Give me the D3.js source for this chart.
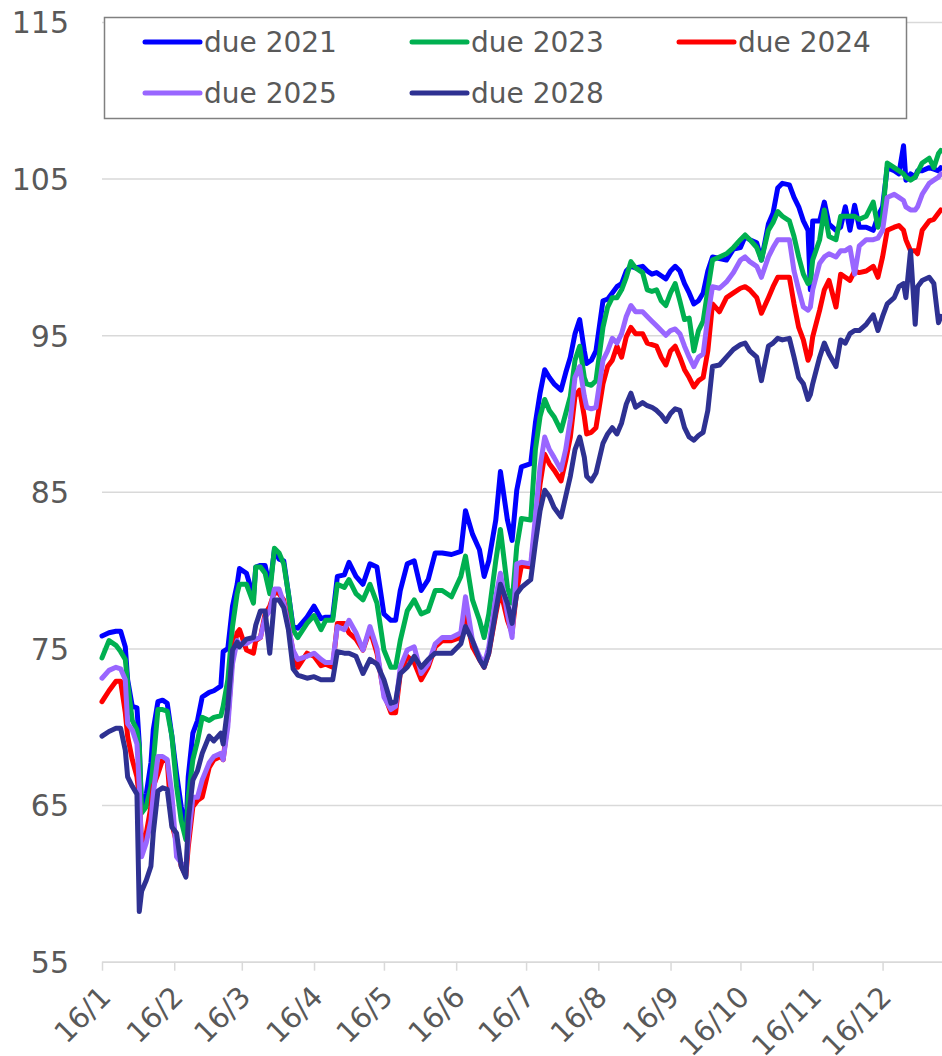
<!DOCTYPE html>
<html>
<head>
<meta charset="utf-8">
<script src="https://cdn.jsdelivr.net/npm/d3@7"></script>
<style>
  body { margin: 0; background: #fff; }
  text { font-family: Verdana, "DejaVu Sans", sans-serif; fill: #595959; }
</style>
</head>
<body>
<script>
// sample dates (2016), one shared list for every series
var dates = [
  "2016-01-01","2016-01-04","2016-01-07","2016-01-09","2016-01-11","2016-01-12","2016-01-14","2016-01-16","2016-01-17","2016-01-18","2016-01-20","2016-01-22","2016-01-23","2016-01-25","2016-01-27","2016-01-29","2016-01-31",
  "2016-02-02","2016-02-04","2016-02-06","2016-02-07","2016-02-09","2016-02-11","2016-02-13","2016-02-16","2016-02-18","2016-02-21","2016-02-22","2016-02-24","2016-02-26","2016-02-28","2016-02-29",
  "2016-03-03","2016-03-06","2016-03-07","2016-03-09","2016-03-11","2016-03-13","2016-03-15","2016-03-17","2016-03-19","2016-03-21","2016-03-23","2016-03-25","2016-03-29",
  "2016-04-01","2016-04-04","2016-04-06","2016-04-09","2016-04-11","2016-04-14","2016-04-16","2016-04-19","2016-04-22","2016-04-25","2016-04-28",
  "2016-05-01","2016-05-04","2016-05-06","2016-05-08","2016-05-11","2016-05-14","2016-05-17","2016-05-20","2016-05-23","2016-05-26","2016-05-30",
  "2016-06-03","2016-06-05","2016-06-08","2016-06-11","2016-06-13","2016-06-15","2016-06-18","2016-06-20","2016-06-23","2016-06-25","2016-06-27","2016-06-29",
  "2016-07-03","2016-07-05","2016-07-07","2016-07-09","2016-07-11","2016-07-13","2016-07-16","2016-07-18","2016-07-20","2016-07-22","2016-07-24","2016-07-26","2016-07-27","2016-07-29","2016-07-31",
  "2016-08-03","2016-08-05","2016-08-07","2016-08-09","2016-08-11","2016-08-13","2016-08-15","2016-08-17","2016-08-20","2016-08-22","2016-08-24","2016-08-26","2016-08-28","2016-08-30",
  "2016-09-01","2016-09-03","2016-09-05","2016-09-07","2016-09-09","2016-09-11","2016-09-13","2016-09-15","2016-09-17","2016-09-19","2016-09-22","2016-09-25","2016-09-28",
  "2016-10-01","2016-10-03","2016-10-05","2016-10-08","2016-10-10","2016-10-13","2016-10-15","2016-10-17","2016-10-19","2016-10-22","2016-10-24","2016-10-26","2016-10-28","2016-10-30","2016-10-31",
  "2016-11-01","2016-11-04","2016-11-06","2016-11-08","2016-11-11","2016-11-13","2016-11-15","2016-11-17","2016-11-19","2016-11-21","2016-11-24","2016-11-27","2016-11-29",
  "2016-12-01","2016-12-03","2016-12-06","2016-12-08","2016-12-10","2016-12-11","2016-12-13","2016-12-15","2016-12-16","2016-12-18","2016-12-21","2016-12-23","2016-12-25","2016-12-26"
];

var due2021 = [
  75.8,76.0,76.1,76.1,75.1,73.0,71.3,71.2,68.9,64.7,65.7,67.7,69.8,71.6,71.7,71.5,69.4,
  67.0,64.9,63.2,66.8,69.6,70.4,71.9,72.2,72.3,72.6,74.8,75.0,77.7,79.1,80.1,
  79.8,78.3,80.2,80.3,80.3,78.9,81.3,80.7,80.6,78.5,76.4,76.3,77.0,
  77.7,76.9,77.0,77.0,79.6,79.7,80.5,79.6,79.1,80.4,80.2,
  77.2,76.8,76.8,78.7,80.4,80.6,78.7,79.4,81.1,81.1,81.0,
  81.2,83.8,82.3,81.3,79.6,80.6,83.2,86.3,83.2,81.9,85.1,86.6,
  86.8,89.4,91.3,92.8,92.3,91.9,91.5,92.6,93.6,95.1,96.0,94.0,93.2,93.4,94.0,
  97.2,97.3,97.7,98.1,98.3,99.1,99.4,99.3,99.4,99.1,98.9,99.0,98.8,98.6,
  99.1,99.4,99.1,98.3,97.7,97.0,97.2,97.7,99.1,100.0,99.9,99.8,100.5,
  100.6,101.3,101.1,100.9,99.8,102.1,102.8,104.4,104.7,104.6,103.8,103.2,102.3,101.7,97.9,
  102.3,102.3,103.5,102.1,101.7,101.9,103.2,101.7,103.3,101.9,101.9,101.7,102.6,
  103.2,105.7,105.5,105.3,107.1,104.9,105.3,105.1,105.5,105.5,105.7,105.6,105.5,105.7
];
var due2023 = [
  74.4,75.5,75.2,74.8,74.3,72.8,70.4,69.8,68.7,64.5,64.9,66.2,67.7,71.1,71.1,71.0,69.4,
  66.2,64.0,62.8,65.5,67.9,69.1,70.6,70.4,70.6,70.7,71.3,73.0,76.4,78.5,79.1,
  79.1,77.9,80.2,80.2,79.8,78.5,81.4,81.1,80.4,78.5,76.2,75.7,76.6,
  77.1,76.2,76.8,76.8,79.1,78.9,79.4,78.5,78.1,79.1,77.9,
  74.9,73.8,73.8,75.5,77.4,78.1,77.2,77.4,78.7,78.7,78.3,
  79.6,80.9,78.1,76.8,75.7,77.2,80.6,82.6,78.9,77.9,81.5,83.3,
  83.2,87.7,89.8,90.9,90.2,89.8,88.9,90.0,91.1,93.4,94.3,92.3,91.9,91.8,92.1,
  95.5,96.8,97.4,97.4,97.9,98.7,99.7,99.3,99.0,97.9,97.8,97.9,97.2,96.9,
  97.7,98.3,97.2,96.0,96.1,94.0,95.3,95.9,97.9,99.8,100.0,100.2,100.6,
  101.1,101.4,101.1,100.6,99.8,101.7,102.2,102.9,102.6,102.3,101.3,100.0,98.9,98.3,98.4,
  99.8,101.1,103.0,101.3,101.1,102.6,102.6,102.6,102.6,102.4,102.6,103.5,101.9,
  102.6,106.0,105.7,105.5,105.3,105.1,104.9,105.1,105.4,106.0,106.3,105.7,106.6,106.8
];
var due2024 = [
  71.6,72.3,72.9,72.9,70.9,69.4,67.9,66.8,65.5,62.6,63.2,64.9,66.2,67.0,67.9,67.8,63.8,
  62.6,61.1,60.5,62.3,64.9,65.3,65.5,67.4,67.9,68.1,67.9,70.4,74.5,76.0,76.2,
  74.9,74.7,75.5,75.7,77.2,77.7,78.6,78.5,78.1,76.4,74.8,73.8,74.7,
  74.5,73.9,74.0,73.8,76.6,76.6,76.0,75.6,74.9,76.2,74.7,
  72.1,70.9,70.9,73.4,74.5,74.1,73.0,73.8,75.1,75.5,75.5,
  75.7,77.2,75.1,74.3,73.8,74.7,77.2,78.7,76.8,76.0,78.7,80.3,
  80.2,82.8,85.5,87.4,86.8,86.4,85.7,87.0,88.5,91.1,91.5,89.8,88.7,88.8,89.1,
  91.9,93.0,93.4,94.3,93.6,94.9,95.5,95.1,95.1,94.5,94.4,94.3,93.6,93.1,
  94.0,94.3,93.6,92.8,92.3,91.7,92.1,92.3,94.0,97.0,96.5,97.4,97.7,
  98.0,98.1,97.9,97.4,96.4,97.4,98.1,98.7,98.7,98.7,97.0,95.5,94.7,93.4,93.8,
  94.9,96.6,97.9,98.5,96.8,98.9,98.7,98.5,99.1,99.0,99.1,99.4,98.7,
  100.0,101.7,101.9,102.0,101.7,101.1,100.4,100.4,100.2,101.7,102.3,102.4,102.8,103.0
];
var due2025 = [
  73.1,73.6,73.8,73.7,73.0,70.2,69.8,68.9,66.2,61.7,62.6,64.0,65.7,68.1,68.1,67.9,65.7,
  61.7,61.3,60.9,62.8,65.5,65.5,66.6,67.7,68.1,68.3,67.9,70.0,74.0,75.5,75.3,
  75.3,75.6,75.6,75.7,77.0,77.4,78.8,78.8,77.9,76.4,74.9,74.3,74.5,
  74.7,74.3,74.1,74.1,76.4,76.2,76.8,76.0,74.9,76.4,75.0,
  71.9,71.1,71.3,73.8,74.9,75.1,73.4,74.0,75.3,75.7,75.7,
  76.0,78.3,75.5,74.5,74.0,75.1,78.3,79.8,77.2,75.7,80.4,80.5,
  80.4,83.4,86.6,88.5,87.7,87.2,86.4,87.7,89.6,92.3,93.0,91.1,90.4,90.3,90.4,
  93.4,94.0,94.8,94.5,95.1,96.2,96.9,96.5,96.5,96.2,95.9,95.6,95.3,95.0,
  95.3,95.4,95.1,94.3,93.6,93.0,93.6,93.8,96.2,98.1,98.0,98.4,99.0,
  99.8,100.0,99.7,99.4,98.7,100.0,100.6,101.1,101.1,101.1,99.1,97.9,96.8,96.6,96.8,
  97.9,99.6,100.0,100.2,100.0,100.4,100.4,100.6,98.9,100.7,101.1,101.1,101.2,
  101.7,103.8,104.0,103.8,103.6,103.2,103.0,103.0,103.2,104.0,104.7,104.9,105.1,105.3
];
var due2028 = [
  69.4,69.7,69.9,69.9,68.5,66.8,66.2,65.7,58.2,59.5,60.2,61.1,63.2,65.9,66.1,66.0,63.6,
  63.2,61.1,60.4,64.0,66.6,67.2,68.3,69.4,69.1,69.6,68.9,71.3,74.9,75.4,75.1,
  75.6,75.7,76.5,77.4,77.4,74.7,78.1,78.1,77.6,76.2,73.7,73.3,73.1,
  73.2,73.0,73.0,73.0,74.8,74.7,74.7,74.5,73.4,74.3,74.0,
  73.0,71.5,71.6,73.4,73.8,74.5,73.8,74.3,74.7,74.7,74.7,
  75.3,76.4,75.5,74.3,73.8,74.7,77.4,79.1,77.9,76.6,78.5,78.9,
  79.4,81.7,83.8,85.1,84.7,84.0,83.4,84.7,86.0,87.7,88.5,87.2,86.0,85.7,86.2,
  88.1,88.7,89.1,88.7,89.4,90.6,91.3,90.4,90.7,90.5,90.4,90.2,89.9,89.5,
  90.0,90.3,90.2,89.1,88.5,88.3,88.6,88.8,90.2,93.0,93.1,93.6,94.1,
  94.4,94.5,94.0,93.6,92.1,94.3,94.5,94.8,94.7,94.8,93.6,92.3,91.9,90.9,91.2,
  91.9,93.6,94.5,93.8,93.0,94.7,94.5,95.1,95.3,95.3,95.7,96.3,95.3,
  96.2,97.0,97.4,98.1,98.3,97.4,100.4,95.7,98.1,98.5,98.7,98.3,95.8,96.2
];

var seriesNames = ["due 2021", "due 2023", "due 2024", "due 2025", "due 2028"];
var seriesColors = ["#0000ff", "#00b050", "#ff0000", "#9966ff", "#2e3192"];
var yTicks = [55, 65, 75, 85, 95, 105, 115];
var monthTicks = ["2016-01-01","2016-02-01","2016-03-01","2016-04-01","2016-05-01","2016-06-01",
                  "2016-07-01","2016-08-01","2016-09-01","2016-10-01","2016-11-01","2016-12-01"];

var W = 942, H = 1056;
var margin = {top: 22, right: 0, bottom: 94, left: 102};

var parse = d3.timeParse("%Y-%m-%d");
var allValues = [due2021, due2023, due2024, due2025, due2028];
var series = seriesNames.map(function(name, i) {
  return {
    name: name,
    color: seriesColors[i],
    values: dates.map(function(d, j) { return {date: parse(d), v: allValues[i][j]}; })
  };
});

var svg = d3.select("body").append("svg")
  .attr("width", W).attr("height", H);

var x = d3.scaleTime()
  .domain([parse("2016-01-01"), new Date(2016, 11, 26, 12)])
  .range([margin.left, W - margin.right]);

var y = d3.scaleLinear()
  .domain([55, 115])
  .range([H - margin.bottom - 0.3, margin.top]);

// gridlines + y labels
var yAxis = svg.append("g")
  .attr("transform", "translate(" + margin.left + ",0)")
  .call(d3.axisLeft(y).tickValues(yTicks).tickSize(-(W - margin.left)).tickPadding(33).tickFormat(d3.format("d")));
yAxis.select(".domain").remove();
yAxis.selectAll(".tick line").attr("stroke", "#d9d9d9").attr("stroke-width", 1.5);
yAxis.selectAll(".tick text").style("font-size", "30px").attr("dy", "0.36em");

// x axis
var xAxis = svg.append("g")
  .attr("transform", "translate(0," + y(55) + ")")
  .call(d3.axisBottom(x).tickValues(monthTicks.map(parse)).tickSize(9).tickSizeOuter(0)
        .tickFormat(d3.timeFormat("%y/%-m")));
xAxis.select(".domain").attr("stroke", "#d9d9d9").attr("stroke-width", 1.5);
xAxis.selectAll(".tick line").attr("stroke", "#d9d9d9").attr("stroke-width", 1.5);
xAxis.selectAll(".tick text")
  .style("font-size", "29px")
  .attr("y", 0).attr("dy", 0)
  .attr("text-anchor", "end")
  .attr("transform", "translate(10,37) rotate(-45)");

// lines
var line = d3.line()
  .x(function(d) { return x(d.date); })
  .y(function(d) { return y(d.v); });

svg.append("defs").append("clipPath").attr("id", "plot")
  .append("rect").attr("x", margin.left - 5).attr("y", 0).attr("width", W).attr("height", H);

svg.append("g").attr("clip-path", "url(#plot)")
  .selectAll("path.series")
  .data(series)
  .enter().append("path")
    .attr("class", "series")
    .attr("fill", "none")
    .attr("stroke", function(d) { return d.color; })
    .attr("stroke-width", 5)
    .attr("stroke-linejoin", "round")
    .attr("stroke-linecap", "round")
    .attr("d", function(d) { return line(d.values); });

// legend
var legend = svg.append("g");
legend.append("rect")
  .attr("x", 104.5).attr("y", 17.5).attr("width", 802).attr("height", 101)
  .attr("fill", "#fff").attr("stroke", "#808080").attr("stroke-width", 1.5);

var legendCols = [145, 412, 679], legendRows = [42, 93];
var item = legend.selectAll("g.item")
  .data(series)
  .enter().append("g")
    .attr("class", "item")
    .attr("transform", function(d, i) {
      return "translate(" + legendCols[i % 3] + "," + legendRows[Math.floor(i / 3)] + ")";
    });
item.append("line")
  .attr("x1", 0).attr("x2", 55)
  .attr("stroke", function(d) { return d.color; })
  .attr("stroke-width", 5)
  .attr("stroke-linecap", "round");
item.append("text")
  .attr("x", 59).attr("dy", "0.36em")
  .style("font-size", "28px")
  .text(function(d) { return d.name; });
</script>
</body>
</html>
